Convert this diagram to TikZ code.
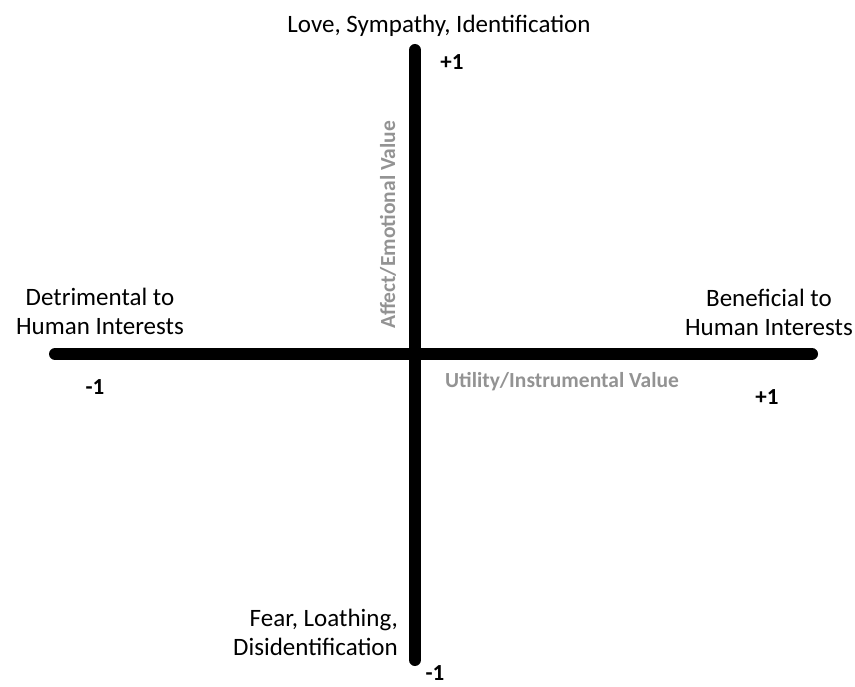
\documentclass[tikz,border=0pt]{standalone}
\usepackage{fontspec}
\setmainfont{Carlito}
\usepackage{tikz}
\usetikzlibrary{positioning}
\tikzset{axis/.style={line width=12pt,line cap=round},
	pole/.style={font=\fontsize{25}{29}\selectfont,align=center,inner sep=0pt},
	tick/.style={font=\bfseries\fontsize{23}{26}\selectfont,inner sep=0pt},
	axislabel/.style={font=\bfseries\fontsize{21.5}{24}\selectfont,text=gray!85,inner sep=0pt}}
\begin{document}
\begin{tikzpicture}[x=1pt,y=-1pt]
\useasboundingbox (0,0) rectangle (855,687);
\coordinate (top) at (415,50);
\coordinate (bottom) at (415,660);
\coordinate (left) at (55,354);
\coordinate (right) at (812,354);
\path[draw][axis] (left) -- (right);
\path[draw][axis] (top) -- (bottom);
\path (439,26) node[pole](love){Love, Sympathy, Identification};
\path (452,62) node[tick](topone){+1};
\path (388,225) node[axislabel,rotate=90](affect){Affect/Emotional Value};
\path (100,311) node[pole](detr){Detrimental to\\Human Interests};
\path (95,387) node[tick](leftone){-1};
\path (769,312) node[pole](bene){Beneficial to\\Human Interests};
\path (767,397) node[tick](rightone){+1};
\path (562,382) node[axislabel](utility){Utility/Instrumental Value};
\path (398,632) node[pole,align=right,anchor=east](fear){Fear, Loathing,\\Disidentification};
\path (435,673) node[tick](bottomone){-1};
\end{tikzpicture}
\end{document}
